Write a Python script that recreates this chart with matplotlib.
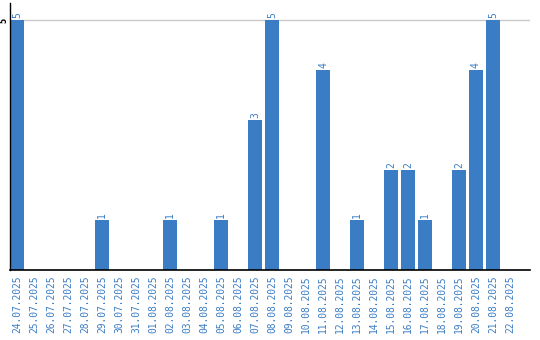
import matplotlib
matplotlib.use("Agg")
import matplotlib.pyplot as plt
import numpy as np

dates = ["24.07.2025", "25.07.2025", "26.07.2025", "27.07.2025", "28.07.2025",
         "29.07.2025", "30.07.2025", "31.07.2025", "01.08.2025", "02.08.2025",
         "03.08.2025", "04.08.2025", "05.08.2025", "06.08.2025", "07.08.2025",
         "08.08.2025", "09.08.2025", "10.08.2025", "11.08.2025", "12.08.2025",
         "13.08.2025", "14.08.2025", "15.08.2025", "16.08.2025", "17.08.2025",
         "18.08.2025", "19.08.2025", "20.08.2025", "21.08.2025", "22.08.2025"]
values = [5, 0, 0, 0, 0, 1, 0, 0, 0, 1, 0, 0, 1, 0, 3, 5, 0, 0, 4, 0,
          1, 0, 2, 2, 1, 0, 2, 4, 5, 0]

blue = "#3b7dc4"
fig = plt.figure(figsize=(5.4, 3.4), dpi=100)
ax = fig.add_axes([10/540, 70/340, 520/540, 267/340])
x = np.arange(len(dates))
ax.bar(x, values, width=0.82, color=blue, zorder=2)
for xi, v in zip(x, values):
    if v > 0:
        ax.text(xi, v + 0.04, str(v), rotation=90, ha="center", va="bottom",
                color=blue, fontsize=7, family="DejaVu Sans Mono")
ax.set_xlim(-0.42, 30.18)
ax.set_ylim(0, 5.34)
ax.set_xticks(x)
ax.set_xticklabels(dates, rotation=90, color=blue, fontsize=6.9, family="DejaVu Sans Mono")
ax.tick_params(axis="x", length=0, pad=4)
ax.set_yticks([5])
ax.set_yticklabels(["5"], rotation=90, va="center", fontsize=5.5, fontweight="bold")
ax.tick_params(axis="y", length=0, pad=1)
ax.grid(axis="y", color="#c8c8c8", linewidth=1, zorder=0)
for s in ["top", "right"]:
    ax.spines[s].set_visible(False)
ax.spines["left"].set_linewidth(1)
ax.spines["bottom"].set_linewidth(1.2)
fig.savefig("out.png", dpi=100)
